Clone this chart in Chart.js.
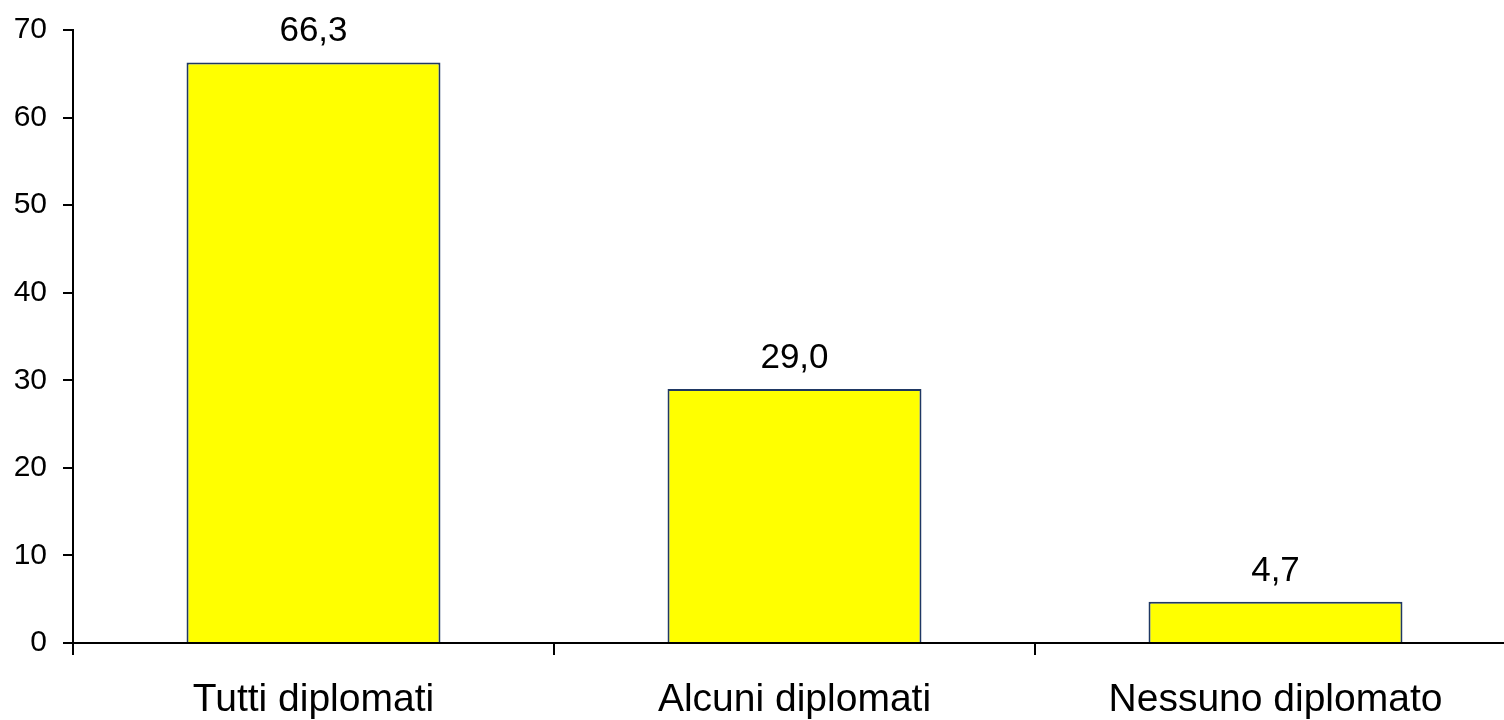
<!DOCTYPE html>
<html>
<head>
<meta charset="utf-8">
<script src="https://cdn.jsdelivr.net/npm/chart.js@4"></script>
<style>
  html, body { margin: 0; padding: 0; background: #fff; overflow: hidden; }
  #wrap { width: 1518px; height: 720px; }
</style>
</head>
<body>
<div id="wrap"><canvas id="myChart"></canvas></div>
<script>
const categories = ['Tutti diplomati', 'Alcuni diplomati', 'Nessuno diplomato'];
const values = [66.3, 29.0, 4.7];
const yTicks = [0, 10, 20, 30, 40, 50, 60, 70];

const fontFamily = '"Liberation Sans", Arial, sans-serif';

// valori sopra le barre, con la virgola decimale
const valueLabels = {
  id: 'valueLabels',
  afterDatasetsDraw(chart) {
    const ctx = chart.ctx;
    const meta = chart.getDatasetMeta(0);
    ctx.save();
    ctx.font = '35px ' + fontFamily;
    ctx.fillStyle = '#000';
    ctx.textAlign = 'center';
    ctx.textBaseline = 'alphabetic';
    meta.data.forEach((bar, i) => {
      ctx.fillText(values[i].toFixed(1).replace('.', ','), bar.x, bar.y - 21);
    });
    ctx.restore();
  }
};

new Chart(document.getElementById('myChart'), {
  type: 'bar',
  data: {
    labels: categories,
    datasets: [{
      data: values,
      backgroundColor: '#FFFF00',
      borderColor: '#1F3864',
      borderWidth: 2,
      borderSkipped: 'bottom',
      categoryPercentage: 1.0,
      barPercentage: 0.528
    }]
  },
  options: {
    responsive: true,
    maintainAspectRatio: false,
    animation: false,
    layout: { padding: { top: 30, right: 2, left: 0, bottom: 0 } },
    plugins: { legend: { display: false }, tooltip: { enabled: false } },
    scales: {
      x: {
        grid: { offset: true, drawOnChartArea: false, drawTicks: true, tickLength: 12, color: '#000', lineWidth: 2 },
        border: { display: true, color: '#000', width: 2 },
        ticks: { color: '#000', font: { family: fontFamily, size: 39 }, padding: 22, maxRotation: 0 },
        afterFit(scale) { scale.height = 77; scale.paddingLeft = 0; scale.paddingRight = 0; }
      },
      y: {
        min: 0,
        max: 70,
        afterBuildTicks(scale) { scale.ticks = yTicks.map(v => ({ value: v })); },
        grid: { drawOnChartArea: false, drawTicks: true, tickLength: 10, color: '#000', lineWidth: 2 },
        border: { display: true, color: '#000', width: 2 },
        ticks: { color: '#000', font: { family: fontFamily, size: 30 }, padding: 16 },
        afterFit(scale) { scale.width = 73; scale.paddingTop = 0; scale.paddingBottom = 0; }
      }
    }
  },
  plugins: [valueLabels]
});
</script>
</body>
</html>
